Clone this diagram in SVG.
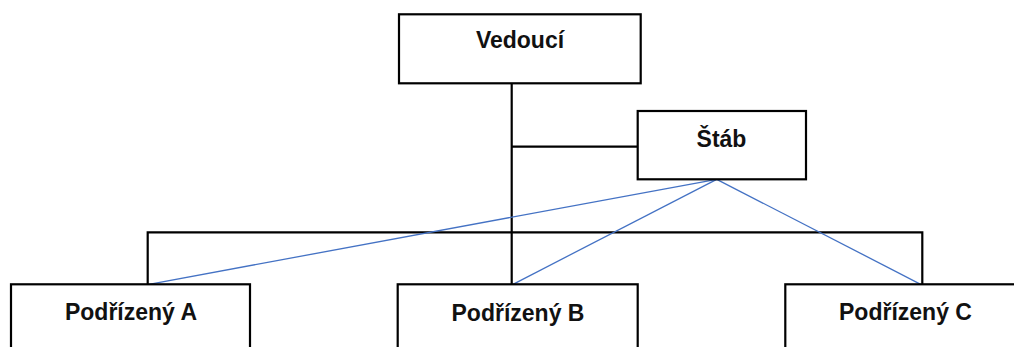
<svg xmlns="http://www.w3.org/2000/svg" width="1014" height="347" viewBox="0 0 1014 347">
<style>
.box{fill:#fff;stroke:#000;stroke-width:2.2}
.lbl{font-family:"Liberation Sans",Arial,sans-serif;font-weight:bold;font-size:23px;fill:#111;text-anchor:middle}
.org{fill:none;stroke:#000;stroke-width:2.2}
.staff{fill:none;stroke:#4472c4;stroke-width:1.3}
</style>
<rect width="1014" height="347" fill="#fff"/>
<g id="connectors">
<path class="org" d="M511.7 83.5 V284.5"/>
<path class="org" d="M511.7 146.7 H638"/>
<path class="org" d="M147.7 284.5 V232.3 H922.3 V284.5"/>
<path class="staff" d="M716.7 179.3 L149 284.3"/>
<path class="staff" d="M716.7 179.3 L513 284.3"/>
<path class="staff" d="M716.7 179.3 L920.7 284.3"/>
</g>
<g id="vedouci">
<rect class="box" x="399" y="14.3" width="241.7" height="69"/>
<text class="lbl" x="520" y="48">Vedoucí</text>
</g>
<g id="stab">
<rect class="box" x="637.7" y="111" width="168.3" height="68.3"/>
<text class="lbl" x="721.5" y="146.7">Štáb</text>
</g>
<g id="podrizeny-a">
<rect class="box" x="11" y="284.3" width="239" height="90"/>
<text class="lbl" x="131" y="319.5">Podřízený A</text>
</g>
<g id="podrizeny-b">
<rect class="box" x="397.7" y="284.3" width="240" height="90"/>
<text class="lbl" x="518" y="320.5">Podřízený B</text>
</g>
<g id="podrizeny-c">
<rect class="box" x="785.3" y="284.3" width="240" height="90"/>
<text class="lbl" x="905.5" y="320">Podřízený C</text>
</g>
</svg>
